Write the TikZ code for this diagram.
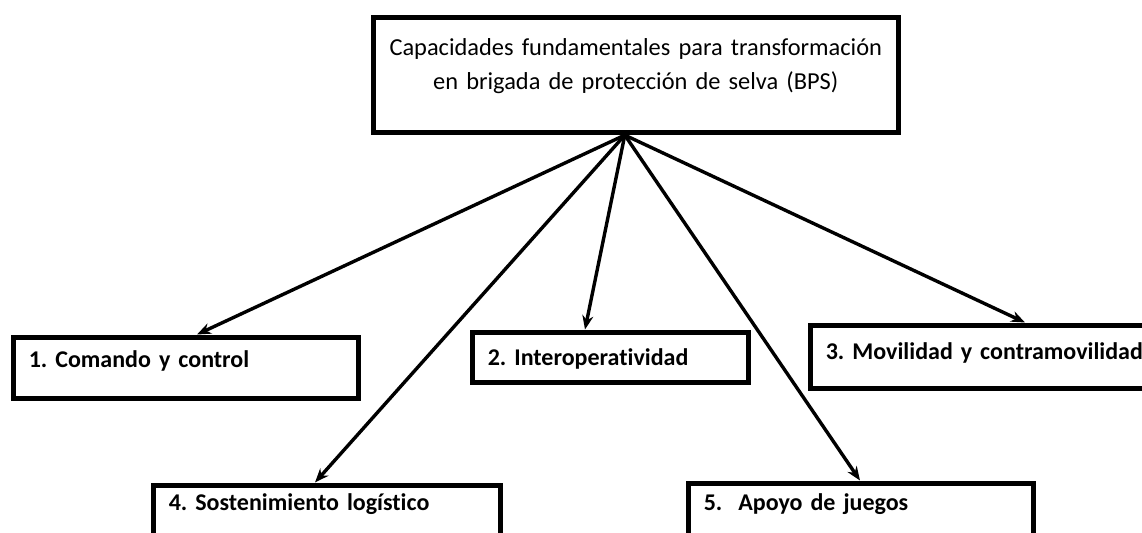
\documentclass[tikz,border=0pt]{standalone}
\usepackage{fontspec}
\setmainfont{Carlito}[Ligatures=NoCommon]
\frenchspacing
\usepackage{tikz}
\usetikzlibrary{arrows.meta}

\tikzset{
  bpsbox/.style={draw, line width=2.8pt, anchor=north west, inner xsep=7.75pt,
    inner ysep=0pt, align=left, font=\fontsize{12}{17}\selectfont\bfseries},
  bpsarrow/.style={-{Stealth[length=7pt,width=5.5pt]}, line width=1.7pt}
}

\begin{document}
\begin{tikzpicture}[x=0.5pt, y=-0.5pt]
\useasboundingbox (0,0) rectangle (1142,532);
\clip (0,0) rectangle (1142,532);
\node[draw, line width=2.8pt, anchor=north west, inner sep=0pt, align=center,
text width=262.5pt, text height=19.25pt, text depth=38.25pt,
font=\fontsize{12.2}{17}\selectfont] (bps) at (370.5,14.5)
{Capacidades fundamentales para transformación\\en brigada de protección de selva (BPS)};
\node[bpsbox, text width=157pt, text height=15.25pt, text depth=15.25pt] (cyc) at (10.5,334.5) {1. Comando y control};
\node[bpsbox, text width=122.5pt, text height=16.75pt, text depth=8.25pt] (inter) at (469.5,329.5) {2. Interoperatividad};
\node[bpsbox, text width=170pt, text height=17.25pt, text depth=14.25pt] (movil) at (807.5,322.5) {3. Movilidad y contramovilidad};
\node[bpsbox, text width=158pt, text height=12.75pt, text depth=26pt] (logis) at (150.5,482.5) {4. Sostenimiento logístico};
\node[bpsbox, text width=157pt, text height=13.75pt, text depth=26pt] (juegos) at (685.5,480.5) {5.\ \ Apoyo de juegos};
\coordinate (hub) at ([xshift=-5.5pt]bps.south);
\draw[bpsarrow] (hub) -- ([xshift=93.25pt]cyc.north west);
\draw[bpsarrow] (hub) -- ([xshift=57.75pt]inter.north west);
\draw[bpsarrow] (hub) -- ([xshift=108.75pt]movil.north west);
\draw[bpsarrow] (hub) -- ([xshift=82.25pt]logis.north west);
\draw[bpsarrow] (hub) -- ([xshift=87.25pt]juegos.north west);
\end{tikzpicture}
\end{document}
